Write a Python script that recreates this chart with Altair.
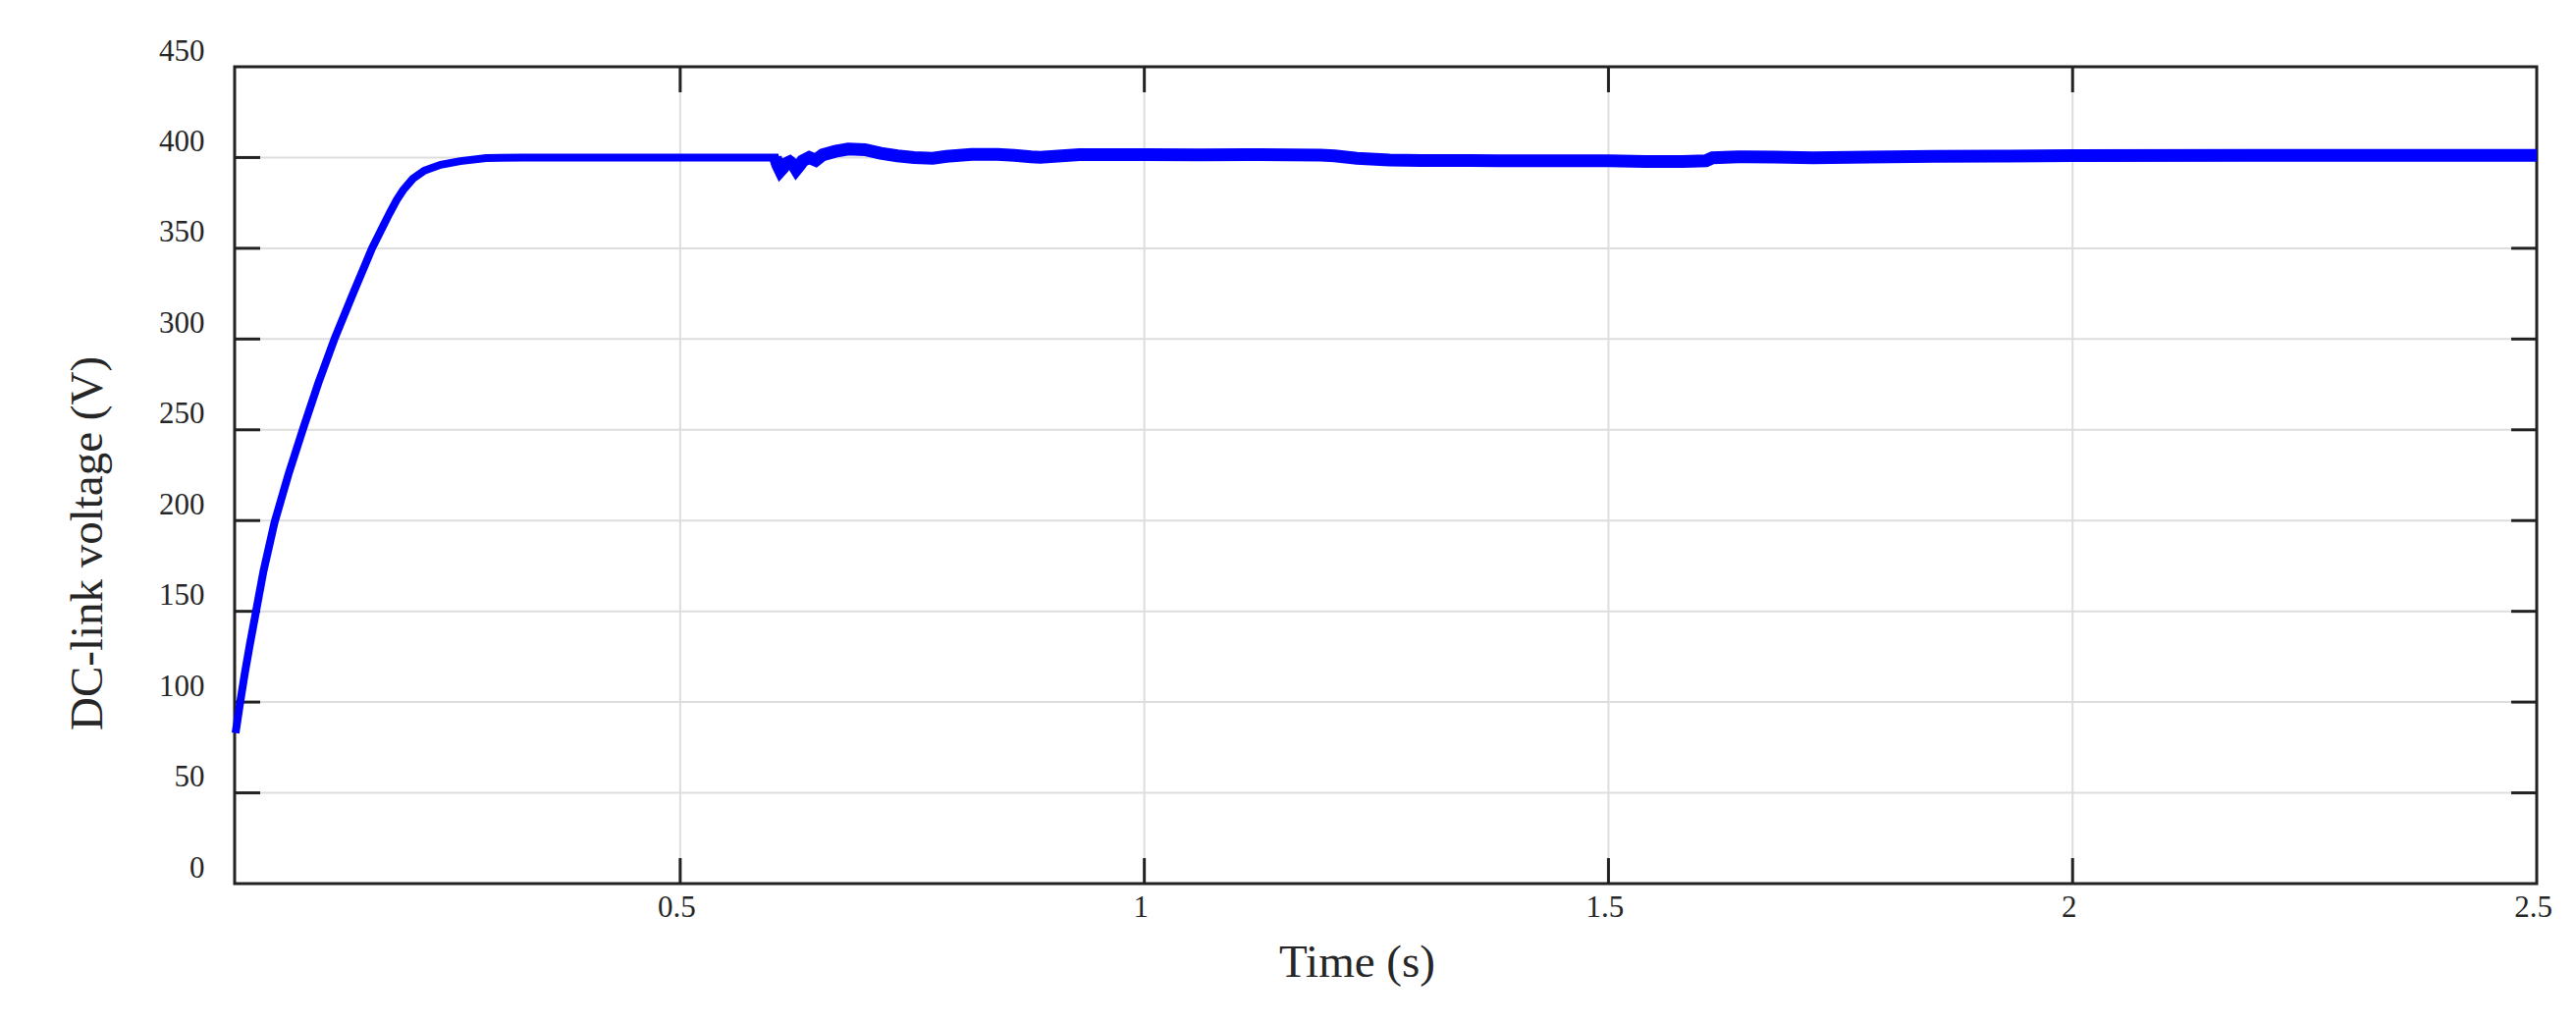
import altair as alt
import pandas as pd

# ---- data ----
time_s = [
    0.021, 0.026, 0.031, 0.0365, 0.0425, 0.051, 0.063, 0.078, 0.094, 0.110,
    0.1275, 0.1469, 0.168, 0.187, 0.1945, 0.2015, 0.212, 0.2244, 0.242, 0.263,
    0.291, 0.33, 0.45, 0.60, 0.6025,
    0.605, 0.608, 0.611, 0.6133, 0.618, 0.622, 0.625, 0.629, 0.632, 0.639,
    0.646, 0.6535, 0.667, 0.681, 0.699, 0.716, 0.734, 0.752, 0.772, 0.787,
    0.814, 0.842, 0.860, 0.878, 0.888, 0.93, 1.0, 1.06, 1.124, 1.19,
    1.205, 1.229, 1.264, 1.299, 1.35, 1.40, 1.50, 1.54, 1.58, 1.605,
    1.612, 1.64, 1.68, 1.72, 1.78, 1.85, 1.93, 2.0, 2.2, 2.35, 2.5,
]
voltage_v = [
    83, 100, 116, 132, 148.5, 172, 199, 225.5, 251, 275.5,
    300, 324.3, 350, 369.4, 376.5, 382, 388.3, 392.8, 396, 398,
    399.7, 400, 400, 400, 400,
    396, 392.8, 394.5, 396.4, 397.6, 396, 393.5, 396, 398.2, 400,
    398.5, 401.5, 403.4, 404.7, 404.3, 402.3, 400.9, 400, 399.6, 400.6,
    401.7, 401.7, 401.2, 400.4, 400.1, 401.6, 401.6, 401.5, 401.6, 401.3,
    400.9, 399.6, 398.6, 398.4, 398.3, 398.2, 398.2, 397.8, 397.8, 398.2,
    399.8, 400.4, 400.2, 399.9, 400.3, 400.6, 400.8, 401, 401.2, 401.2, 401.2,
]
x_tick_values = [0.5, 1, 1.5, 2, 2.5]
x_inner_ticks = [0.5, 1, 1.5, 2]
y_tick_values = [0, 50, 100, 150, 200, 250, 300, 350, 400, 450]
y_inner_ticks = [50, 100, 150, 200, 250, 300, 350, 400]

W, H = 2345, 832
TICK = 26
FONT = "Liberation Serif"
INK = "#262626"
GRID = "#dddddd"

df = pd.DataFrame({"t": time_s, "v": voltage_v})
ripple_df = df[df["t"] >= 0.6025]
yt = pd.DataFrame({"v": y_inner_ticks})
xt = pd.DataFrame({"t": x_inner_ticks})

xscale = alt.Scale(domain=[0.02, 2.5], nice=False, zero=False)
yscale = alt.Scale(domain=[0, 450], nice=False, zero=False)

x_axis = alt.Axis(
    values=x_tick_values, format="~g", title="Time (s)",
    labelFont=FONT, labelFontSize=31, labelColor=INK, labelPadding=9,
    labelFlush=False, labelOffset=-4, ticks=False, domain=False, grid=False,
    titleFont=FONT, titleFontSize=47, titleFontWeight="normal", titleColor=INK,
    titleX=1143, titleY=94, titleAlign="center", titleBaseline="alphabetic",
)
y_axis = alt.Axis(
    values=y_tick_values, format="d", title="DC-link voltage (V)",
    labelFont=FONT, labelFontSize=31, labelColor=INK, labelPadding=31,
    labelOffset=-16, labelBaseline="middle", ticks=False, domain=False, grid=False,
    titleFont=FONT, titleFontSize=47, titleFontWeight="normal", titleColor=INK,
    titleAngle=270, titleX=-136, titleY=485, titleAlign="center",
    titleBaseline="alphabetic",
)

X = alt.X("t:Q", scale=xscale, axis=x_axis)
Y = alt.Y("v:Q", scale=yscale, axis=y_axis)

# grid lines (between the inward ticks)
hgrid = alt.Chart(yt).mark_rule(color=GRID, strokeWidth=2).encode(
    y=Y, x=alt.value(TICK), x2=alt.value(W - TICK))
vgrid = alt.Chart(xt).mark_rule(color=GRID, strokeWidth=2).encode(
    x=X, y=alt.value(TICK), y2=alt.value(H - TICK))

main = alt.Chart(df).mark_line(color="#0000ff", strokeWidth=8).encode(
    x=X, y=Y, order="t:Q",
)
ripple = alt.Chart(ripple_df).mark_line(color="#0000ff", strokeWidth=13).encode(
    x=X, y=Y, order="t:Q",
)

tick_style = dict(color="#222222", strokeWidth=3)
left_ticks = alt.Chart(yt).mark_rule(**tick_style).encode(
    y=Y, x=alt.value(0), x2=alt.value(TICK))
right_ticks = alt.Chart(yt).mark_rule(**tick_style).encode(
    y=Y, x=alt.value(W - TICK), x2=alt.value(W))
bottom_ticks = alt.Chart(xt).mark_rule(**tick_style).encode(
    x=X, y=alt.value(H - TICK), y2=alt.value(H))
top_ticks = alt.Chart(xt).mark_rule(**tick_style).encode(
    x=X, y=alt.value(0), y2=alt.value(TICK))

chart = (
    alt.layer(hgrid, vgrid, left_ticks, right_ticks, bottom_ticks, top_ticks,
              main, ripple)
    .properties(
        width=W, height=H,
        padding={"left": 231, "top": 60, "right": 30, "bottom": 130},
        autosize=alt.AutoSizeParams(type="none"),
        background="white",
    )
    .configure_view(stroke="#222222", strokeWidth=3)
)

chart.save("out.html", embed_options={"renderer": "svg", "actions": False})
